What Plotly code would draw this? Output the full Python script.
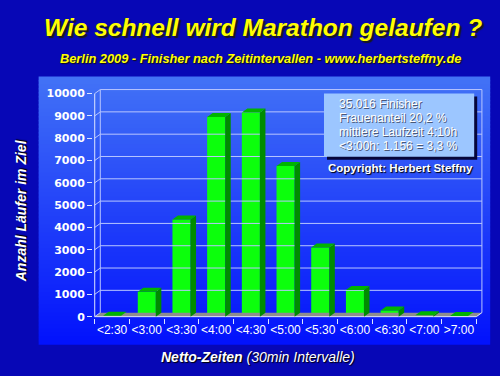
import plotly.graph_objects as go

# ---------------- data ----------------
categories = ["<2:30", "<3:00", "<3:30", "<4:00", "<4:30", "<5:00",
              "<5:30", "<6:00", "<6:30", "<7:00", ">7:00"]
finishers = [40, 1116, 4350, 8950, 9150, 6750, 3100, 1200, 280, 60, 30]
y_ticks = [0, 1000, 2000, 3000, 4000, 5000, 6000, 7000, 8000, 9000, 10000]
y_tick_labels = ["0", "1000", "2000", "3000", "4000", "5000",
                 "6000", "7000", "8000", "9000", "10000"]
info_lines = ["35.016 Finisher", "Frauenanteil 20,2 %",
              "mittlere Laufzeit 4:10h", "<3:00h: 1.156 = 3,3 %"]
title_text = "Wie schnell wird Marathon gelaufen ?"
subtitle_text = "Berlin 2009 - Finisher nach Zeitintervallen - www.herbertsteffny.de"
y_title = "Anzahl Läufer im Ziel"
x_title_bold = "Netto-Zeiten"
x_title_rest = "(30min Intervalle)"
copyright_text = "Copyright: Herbert Steffny"

# ---------------- geometry / style ----------------
W, H = 500, 376
n = len(categories)
BAR_W = 0.52
DX = 0.16          # depth offset in category units
DY = 180           # depth offset in value units
YMAX = y_ticks[-1]
X0, X1 = -0.55, n - 0.5 + DX + 0.06
Y0, Y1 = -60, YMAX + DY + 70

ML, MR, MT, MB = 93.3, 16.2, 88.4, 57.7
PW, PH = W - ML - MR, H - MT - MB


def pxx(p):
    return (p - ML) / PW


def pxy(p):
    return (H - MB - p) / PH


def esc(s):
    return s.replace("<", "&lt;").replace(">", "&gt;")


SANS = "Liberation Sans, Arial, sans-serif"
GRID = "#b8c6ff"
AXIS = "#dfe6ff"

fig = go.Figure()

# floor
xl, xr = -0.5, n - 0.5
fig.add_trace(go.Scatter(
    x=[xl, xr, xr + DX, xl + DX, xl], y=[0, 0, DY, DY, 0],
    fill="toself", fillcolor="#8e8e8e", line=dict(width=0),
    mode="lines", hoverinfo="skip", showlegend=False))

# back-wall grid lines, diagonal connectors, wall edges
gx, gy = [], []
for v in y_ticks:
    if v > 0:
        gx += [xl + DX, xr + DX, None]
        gy += [v + DY, v + DY, None]
    gx += [xl, xl + DX, None]
    gy += [v, v + DY, None]
gx += [xl + DX, xl + DX, None, xr + DX, xr + DX, None]
gy += [DY, YMAX + DY, None, DY, YMAX + DY, None]
fig.add_trace(go.Scatter(x=gx, y=gy, mode="lines",
                         line=dict(color=GRID, width=1),
                         hoverinfo="skip", showlegend=False))

# front axes
fig.add_trace(go.Scatter(
    x=[xl, xl, None, xl, xr, xr + DX], y=[YMAX, 0, None, 0, 0, DY],
    mode="lines", line=dict(color=AXIS, width=1),
    hoverinfo="skip", showlegend=False))

# bar fronts
fig.add_trace(go.Bar(
    x=list(range(n)), y=finishers, width=BAR_W,
    marker=dict(color="#0cff0c", line=dict(width=0)),
    hoverinfo="skip", showlegend=False))

# bar sides and tops
sx, sy, tx, ty = [], [], [], []
for i, v in enumerate(finishers):
    l, r = i - BAR_W / 2, i + BAR_W / 2
    sx += [r, r + DX, r + DX, r, r, None]
    sy += [0, DY, v + DY, v, 0, None]
    tx += [l, l + DX, r + DX, r, l, None]
    ty += [v, v + DY, v + DY, v, v, None]
fig.add_trace(go.Scatter(x=sx, y=sy, fill="toself", fillcolor="#008c00",
                         line=dict(width=0), mode="lines",
                         hoverinfo="skip", showlegend=False))
fig.add_trace(go.Scatter(x=tx, y=ty, fill="toself", fillcolor="#00b400",
                         line=dict(width=0), mode="lines",
                         hoverinfo="skip", showlegend=False))

# ---------------- background gradient panel ----------------
shapes = []
top_c, bot_c = (66, 114, 246), (2, 18, 252)
p_top, p_bot, p_l, p_r = 77, 345, 39, 490
steps = 67
for k in range(steps):
    t = k / (steps - 1)
    c = tuple(round(top_c[j] + (bot_c[j] - top_c[j]) * t) for j in range(3))
    y_a = p_top + (p_bot - p_top) * k / steps
    y_b = p_top + (p_bot - p_top) * (k + 1) / steps + 0.6
    shapes.append(dict(type="rect", xref="paper", yref="paper", layer="below",
                       x0=pxx(p_l), x1=pxx(p_r), y0=pxy(min(y_b, p_bot)), y1=pxy(y_a),
                       fillcolor="rgb(%d,%d,%d)" % c, line=dict(width=0)))

# info box with shadow
bx0, by0, bx1, by1 = 324, 94, 474, 157
shapes.append(dict(type="rect", xref="paper", yref="paper", layer="above",
                   x0=pxx(bx0 + 3), x1=pxx(bx1 + 3), y0=pxy(by1 + 3), y1=pxy(by0 + 3),
                   fillcolor="#06063a", line=dict(width=0)))
shapes.append(dict(type="rect", xref="paper", yref="paper", layer="above",
                   x0=pxx(bx0), x1=pxx(bx1), y0=pxy(by1), y1=pxy(by0),
                   fillcolor="#9cc6ff", line=dict(width=0)))

# ---------------- annotations ----------------
ann = []
ann.append(dict(text=esc(title_text), xref="paper", yref="paper",
                x=pxx(263), y=pxy(28), xanchor="center", yanchor="middle",
                showarrow=False,
                font=dict(family=SANS, size=24.5, color="#ffff00", weight="bold",
                          style="italic", shadow="2px 2px 1px #1a1a1a")))
ann.append(dict(text=esc(subtitle_text), xref="paper", yref="paper",
                x=pxx(261), y=pxy(58.5), xanchor="center", yanchor="middle",
                showarrow=False,
                font=dict(family=SANS, size=12.8, color="#ffff00", weight="bold",
                          style="italic", shadow="1px 1px 1px #111111")))
ann.append(dict(text=esc(y_title), xref="paper", yref="paper",
                x=pxx(21), y=pxy(211), xanchor="center", yanchor="middle",
                textangle=-90, showarrow=False,
                font=dict(family=SANS, size=14, color="#ffffff", weight="bold",
                          style="italic", shadow="1px 1px 1px #000000")))
ann.append(dict(text="<b>" + esc(x_title_bold) + "</b> " + esc(x_title_rest),
                xref="paper", yref="paper",
                x=pxx(258.5), y=pxy(357), xanchor="center", yanchor="middle",
                showarrow=False,
                font=dict(family=SANS, size=14, color="#ffffff",
                          style="italic", shadow="1px 1px 1px #000000")))
for k, line in enumerate(info_lines):
    ann.append(dict(text=esc(line), xref="paper", yref="paper",
                    x=pxx(337), y=pxy(104.5 + 14 * k), xanchor="left", yanchor="middle",
                    showarrow=False,
                    font=dict(family=SANS, size=12, color="#ffffff",
                              shadow="1px 1px 0px #4a5878")))
ann.append(dict(text=esc(copyright_text), xref="paper", yref="paper",
                x=pxx(400), y=pxy(168), xanchor="center", yanchor="middle",
                showarrow=False,
                font=dict(family=SANS, size=11.5, color="#ffffff", weight="bold",
                          shadow="1px 1px 1px #000000")))

fig.update_layout(
    width=W, height=H,
    margin=dict(l=ML, r=MR, t=MT, b=MB, pad=0, autoexpand=False),
    paper_bgcolor="#0707b6", plot_bgcolor="rgba(0,0,0,0)",
    shapes=shapes, annotations=ann, showlegend=False,
    xaxis=dict(range=[X0, X1], showgrid=False, zeroline=False, showline=False,
               tickvals=list(range(n)), ticktext=[esc(c) for c in categories],
               ticks="", ticklabelstandoff=3,
               tickfont=dict(family=SANS, size=12, color="#ffffff"),
               minor=dict(tickvals=[i - 0.5 for i in range(n + 1)], ticks="outside",
                          ticklen=5, tickcolor=AXIS, tickwidth=1, showgrid=False),
               fixedrange=True),
    yaxis=dict(range=[Y0, Y1], showgrid=False, zeroline=False, showline=False,
               tickvals=y_ticks, ticktext=y_tick_labels,
               ticks="outside", ticklen=5, tickcolor=AXIS,
               tickfont=dict(family="DejaVu Sans, sans-serif", size=11,
                             color="#ffffff", weight="bold"),
               fixedrange=True),
)

fig.write_html("out.html",
               config={"displayModeBar": False, "staticPlot": True},
               post_script="document.body.style.margin='0';document.body.style.overflow='hidden';")
